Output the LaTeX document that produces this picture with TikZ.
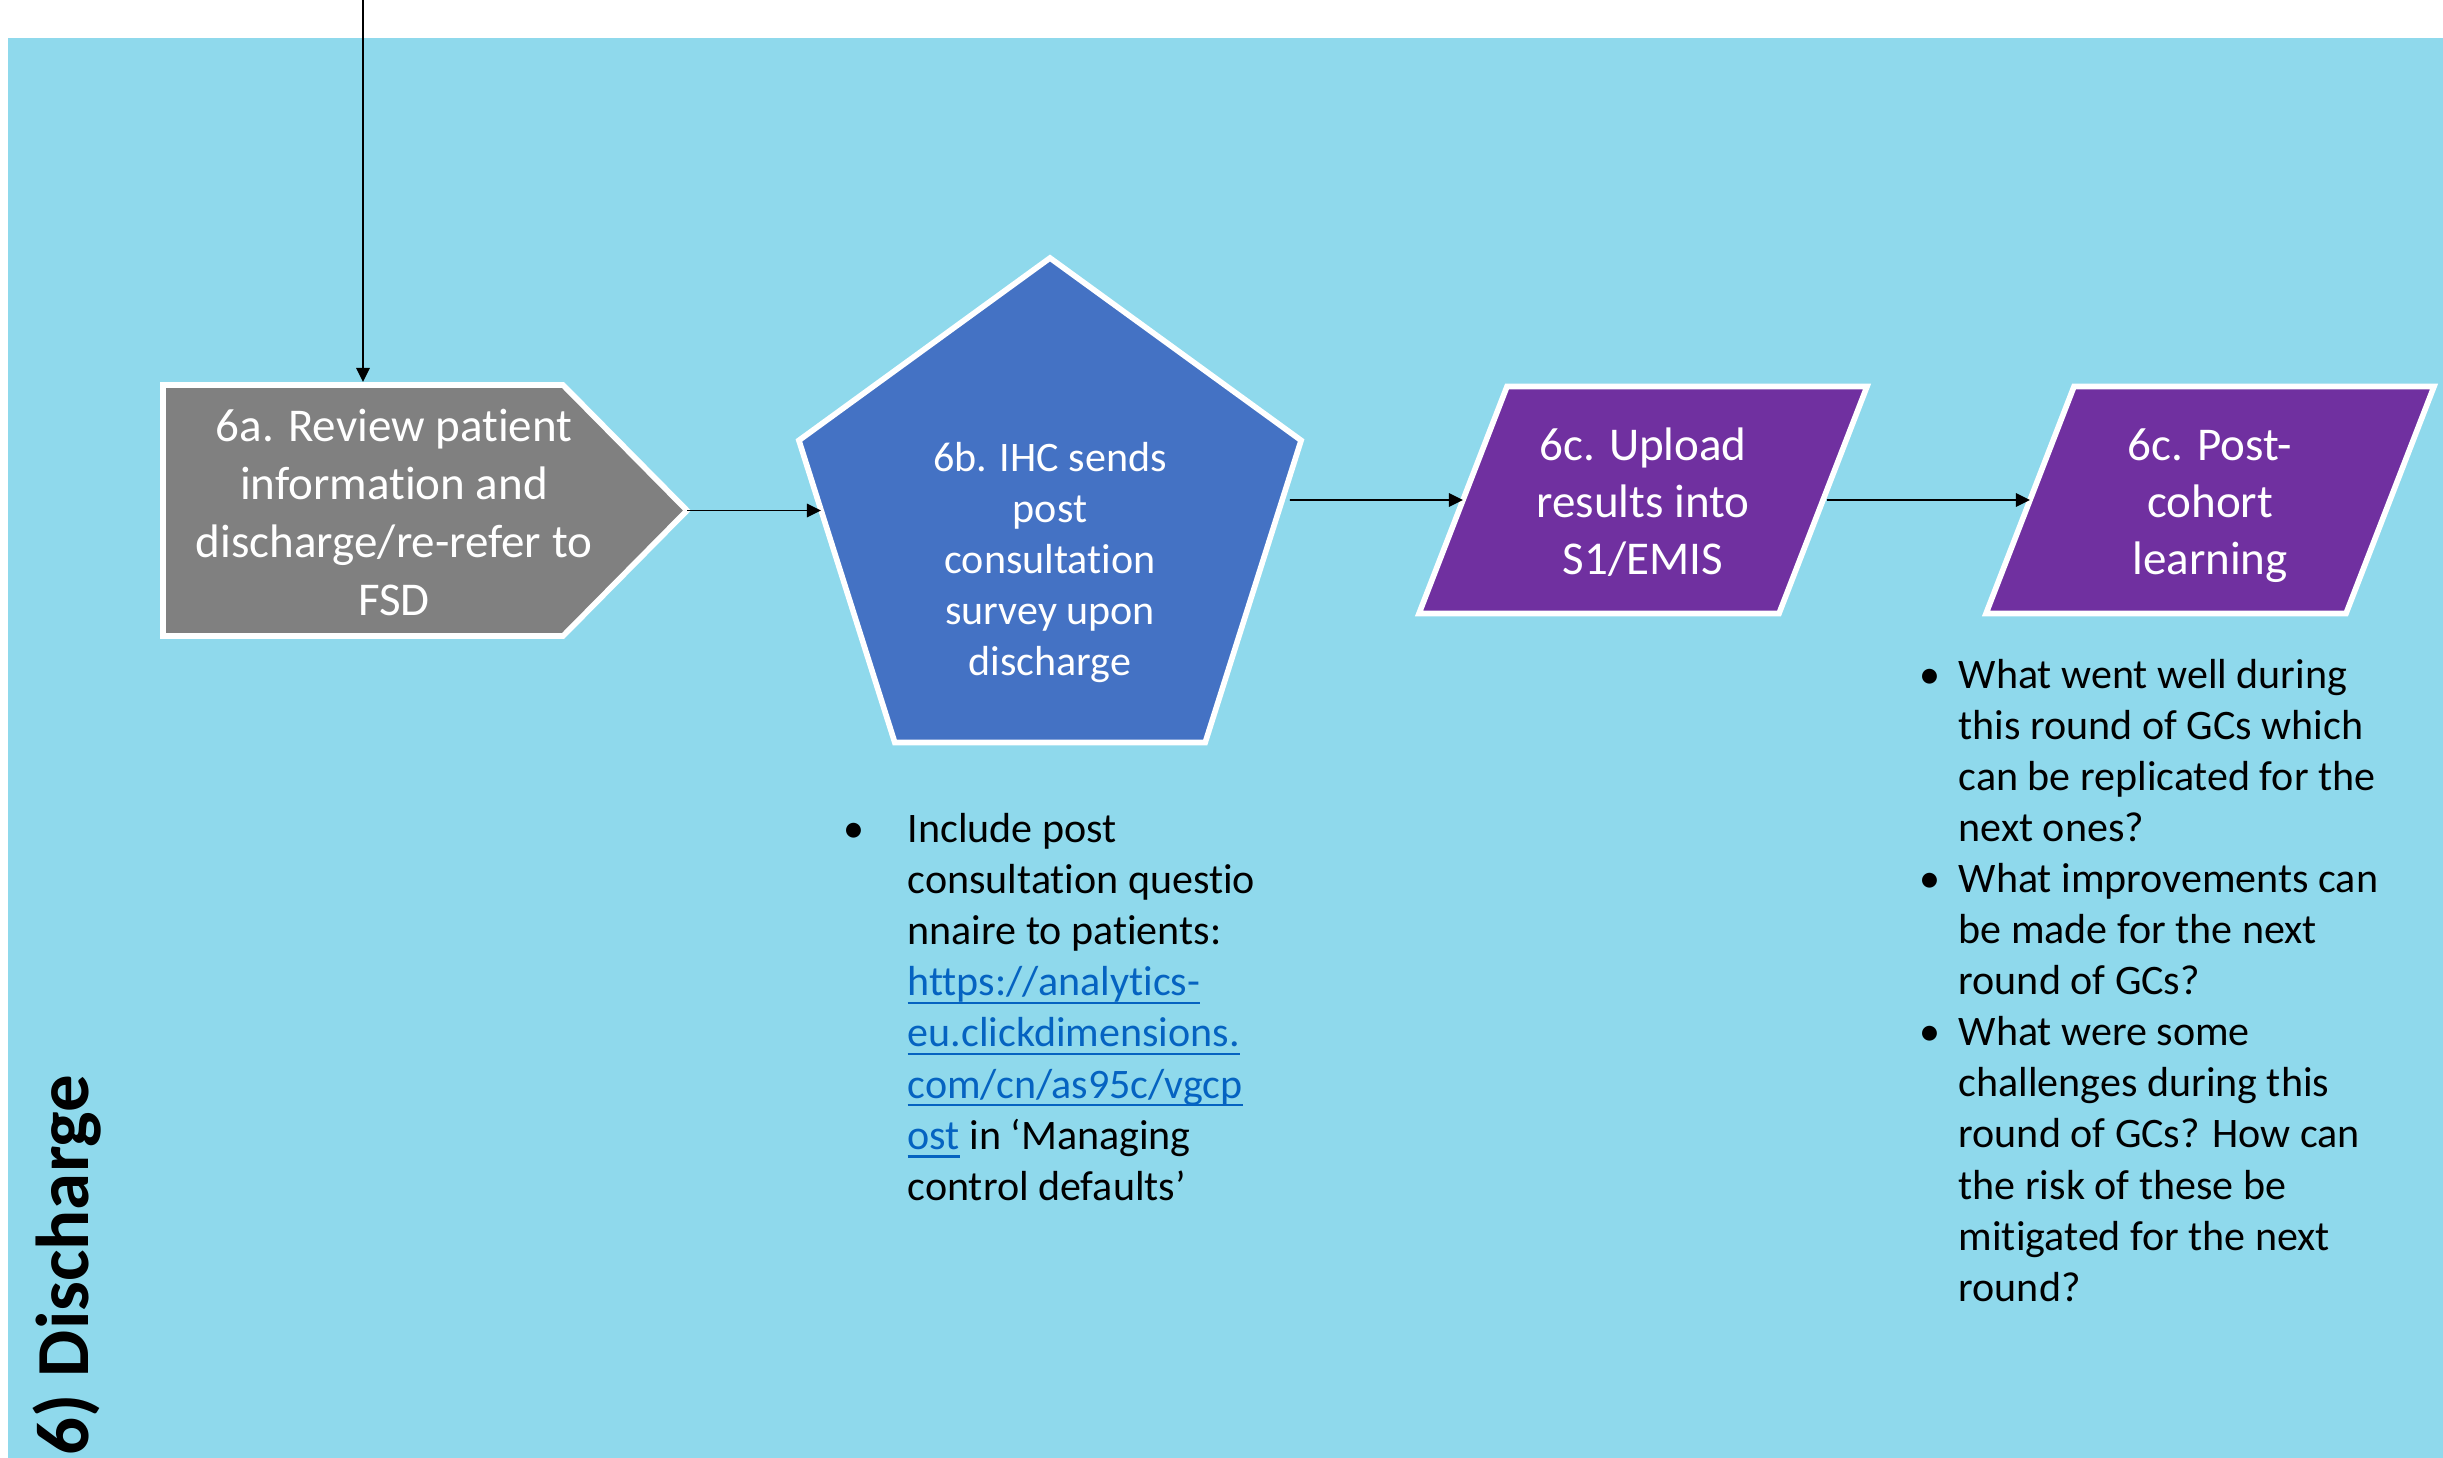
\documentclass[tikz,border=0pt]{standalone}
\usepackage{fontspec}
\setmainfont{Carlito}[Ligatures=NoCommon]
\usetikzlibrary{arrows.meta,calc}

\definecolor{lanebg}{RGB}{143,217,236}
\definecolor{stepgrey}{RGB}{128,128,128}
\definecolor{stepblue}{RGB}{68,114,196}
\definecolor{steppurple}{RGB}{112,48,160}
\definecolor{linkblue}{RGB}{5,99,193}

% hyperlink look: blue text with an underline at a fixed depth
\newsavebox{\linkbox}
\newcommand{\weblink}[1]{%
  \sbox{\linkbox}{\textcolor{linkblue}{#1}}%
  \rlap{\textcolor{linkblue}{\rule[-0.2em]{\wd\linkbox}{0.055em}}}\usebox{\linkbox}}

\begin{document}
\begin{tikzpicture}[x=0.01cm, y=-0.01cm,
  shapeborder/.style={draw=white, line width=1.6pt, line join=miter},
  boxtext/.style={text=white, font=\fontsize{13.37}{16.4}\selectfont, inner sep=0, anchor=base},
  penttext/.style={text=white, font=\fontsize{11.95}{14.6}\selectfont, inner sep=0, anchor=base},
  bodytext/.style={text=black, font=\fontsize{11.95}{14.6}\selectfont, inner sep=0, anchor=base west},
  bulletmark/.style={text=black, font=\fontsize{11.95}{14.6}\selectfont, inner sep=0, anchor=base},
  flow/.style={line width=0.5pt, -{Triangle[length=4pt,width=3.8pt]}}]

\useasboundingbox (0,0) rectangle (2443,1458);

% swim lane background
\fill[lanebg] (8,38) rectangle (2443,1458);

% lane title
\node[rotate=90, anchor=base west, inner sep=0,
      font=\fontsize{21.3}{25}\selectfont\bfseries] (lane) at (88,1456) {6) Discharge};

% 6a: pointed box
\path[fill=stepgrey, shapeborder]
  (163,385) coordinate (a-tl) -- (563,385) -- (687,510.5) coordinate (a-tip)
  -- (563,636) -- (163,636) -- cycle;
\coordinate (a-in) at (363,382);
\coordinate (feed) at (363,0);

% 6b: pentagon
\path[fill=stepblue, shapeborder]
  (1050,258) coordinate (b-top) -- (1301.1,440.4) coordinate (b-ur)
  -- (1205.2,742.5) coordinate (b-lr) -- (894.8,742.5) coordinate (b-ll)
  -- (798.9,440.4) coordinate (b-ul) -- cycle;
\coordinate (b-in) at ($(b-ul)!0.2304!(b-ll)$);
\coordinate (b-out) at ($(b-ur)!0.1973!(b-lr)$);

% 6c: parallelograms
\path[fill=steppurple, shapeborder]
  (1507,386.5) coordinate (c-tl) -- (1867,386.5) coordinate (c-tr)
  -- (1779,613.5) coordinate (c-br) -- (1419,613.5) coordinate (c-bl) -- cycle;
\coordinate (c-in) at ($(c-tl)!0.5!(c-bl)$);
\coordinate (c-out) at ($(c-tr)!0.5!(c-br)$);

\path[fill=steppurple, shapeborder]
  (2074,386.5) coordinate (d-tl) -- (2434,386.5) coordinate (d-tr)
  -- (2346,613.5) coordinate (d-br) -- (1986,613.5) coordinate (d-bl) -- cycle;
\coordinate (d-in) at ($(d-tl)!0.5!(d-bl)$);

% step labels
\foreach \t [count=\k from 0] in {6a. Review patient, information and, discharge/re-refer to, FSD}
  \node[boxtext] (a\k) at (394, {442+57.7*\k}) {\t};
\foreach \t [count=\k from 0] in {6b. IHC sends, post, consultation, survey upon, discharge}
  \node[penttext] (b\k) at (1050, {471+51*\k}) {\t};
\foreach \t [count=\k from 0] in {6c. Upload, results into, S1/EMIS}
  \node[boxtext] (c\k) at (1643, {460+57*\k}) {\t};
\foreach \t [count=\k from 0] in {6c. Post-, cohort, learning}
  \node[boxtext] (d\k) at (2210, {460+57*\k}) {\t};

% connectors
\draw[flow] (feed) -- (a-in);
\draw[flow] (a-tip) -- (a-tip -| b-in);
\draw[flow, shorten <=2.2pt] (b-out) -- (c-in);
\draw[flow, shorten <=1pt] (c-out) -- (d-in);

% notes under 6b
\node[bulletmark] (nb) at (854,842) {•};
\foreach \t [count=\k from 0] in {Include post, consultation questio, nnaire to patients:,
    \weblink{https://analytics-}, \weblink{eu.clickdimensions.}, \weblink{com/cn/as95c/vgcp},
    \weblink{ost} in ‘Managing, control defaults’}
  \node[bodytext] (n\k) at (907, {842+51.2*\k}) {\t};

% notes under 6c
\node[bulletmark] (qb0) at (1930,688) {•};
\node[bulletmark] (qb1) at (1930,{688+51.1*4}) {•};
\node[bulletmark] (qb2) at (1930,{688+51.1*7}) {•};
\foreach \t [count=\k from 0] in {What went well during, this round of GCs which, can be replicated for the,
    next ones?, What improvements can, be made for the next, round of GCs?, What were some,
    challenges during this, round of GCs? How can, the risk of these be, mitigated for the next, round?}
  \node[bodytext] (q\k) at (1958, {688+51.1*\k}) {\t};

\end{tikzpicture}
\end{document}
